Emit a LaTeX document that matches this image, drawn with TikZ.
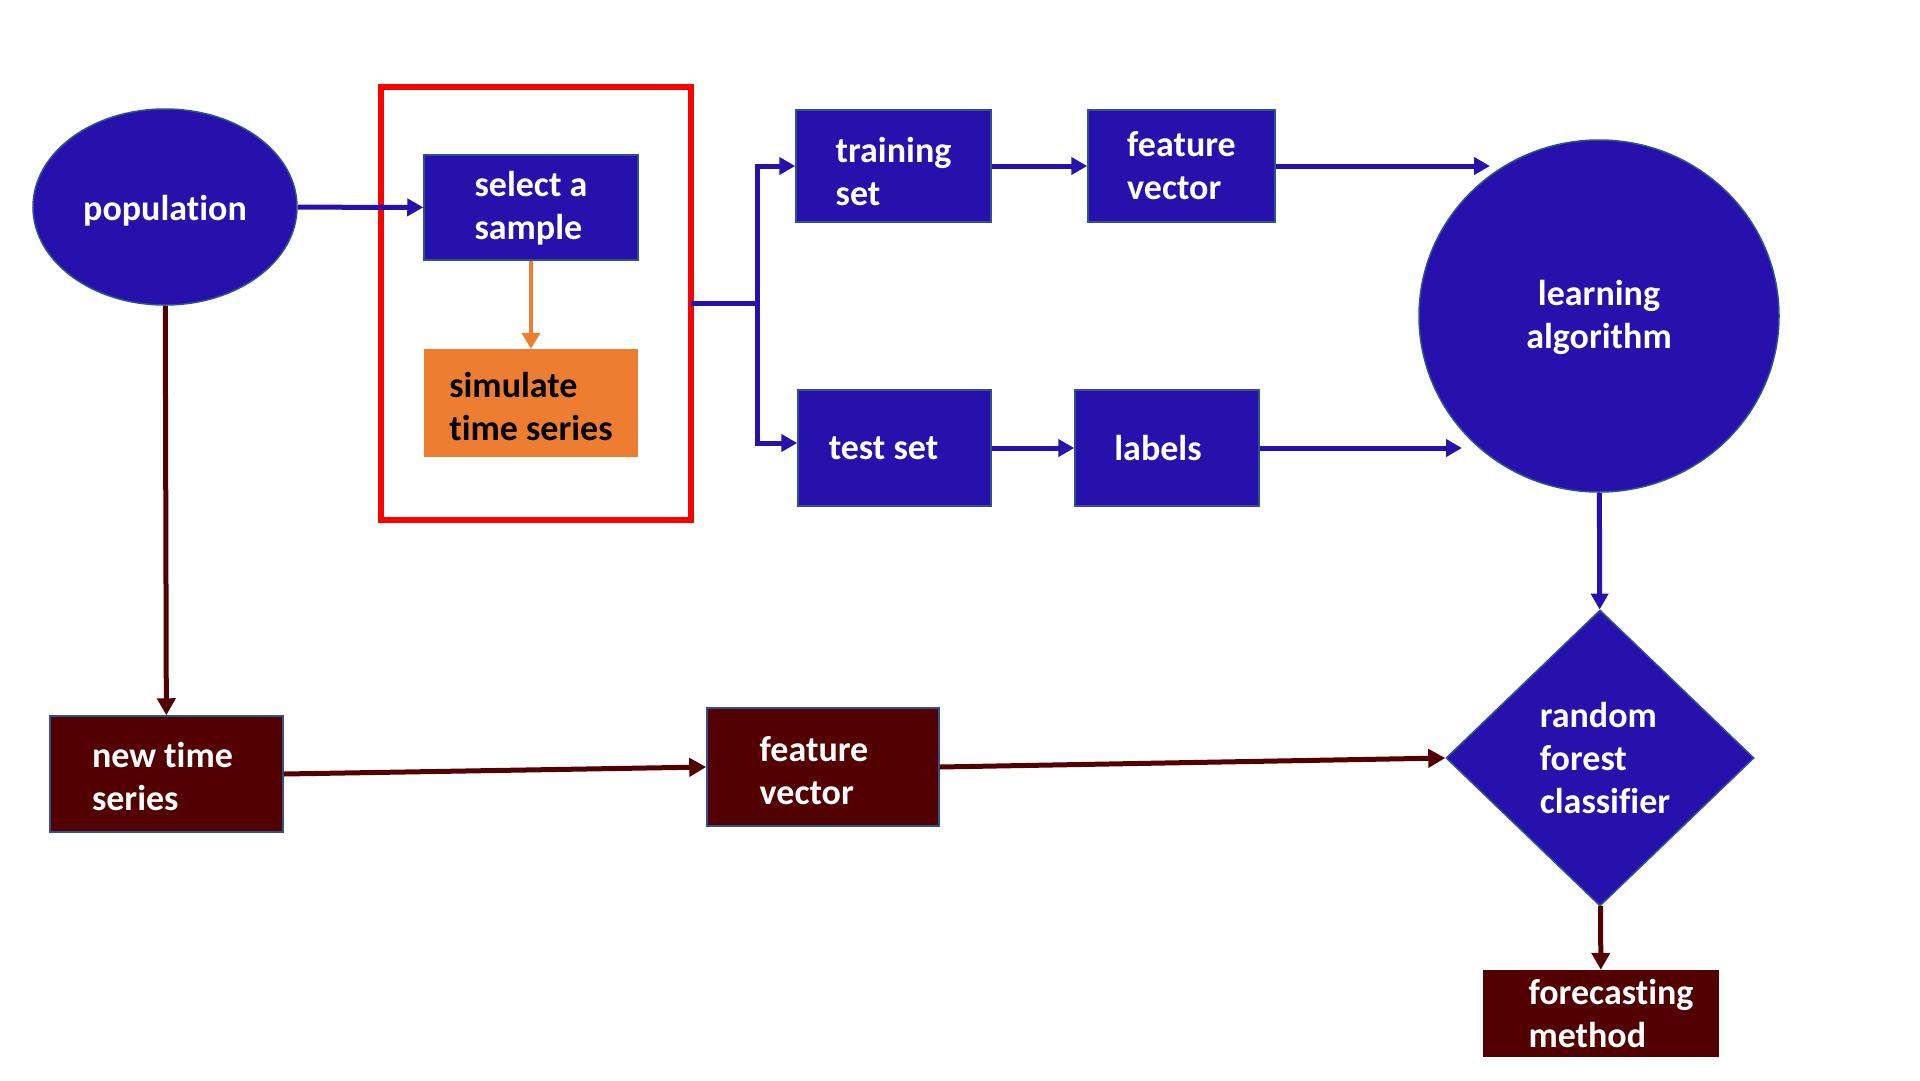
\documentclass[tikz,border=0pt]{standalone}
\usepackage{fontspec}
\setmainfont{Carlito}[Ligatures={NoCommon}]
\usetikzlibrary{arrows.meta,shapes.geometric}
\definecolor{nblue}{RGB}{38,17,173}
\definecolor{nbrown}{RGB}{82,0,0}
\definecolor{norange}{RGB}{237,125,49}
\definecolor{nedge}{RGB}{47,82,143}
\begin{document}
\begin{tikzpicture}[x=1pt,y=-1pt,
  txt/.style={font=\fontsize{36}{43}\selectfont\bfseries, text=white, align=left, inner sep=0pt},
  boxtext/.style n args={3}{label={[txt, xshift=#1, yshift=#2]center:{#3}}},
  darktext/.style n args={3}{label={[txt, text=black, xshift=#1, yshift=#2]center:{#3}}},
  bluebox/.style={rectangle, draw=nedge, line width=1.5pt, fill=nblue, inner sep=0pt},
  brownbox/.style={rectangle, draw=nedge, line width=1.5pt, fill=nbrown, inner sep=0pt},
  bluearrow/.style={draw=nblue, line width=5pt, -{Triangle[length=16pt,width=17pt]}},
  blueline/.style={draw=nblue, line width=5pt},
  brownarrow/.style={draw=nbrown, line width=5pt, -{Triangle[length=17pt,width=18pt]}},
  orangearrow/.style={draw=norange, line width=4pt, -{Triangle[length=16pt,width=18pt]}}
]
\useasboundingbox (0,0) rectangle (1920,1080);
\fill[white] (0,0) rectangle (1920,1080);

% nodes
\node[ellipse, draw=nedge, line width=1.5pt, fill=nblue, inner sep=0pt, minimum width=264pt, minimum height=196pt,
  boxtext={0pt}{-4pt}{population}] (pop) at (165,207) {};
\node[draw=red, line width=6pt, outer sep=0pt, minimum width=310pt, minimum height=433pt, inner sep=0pt] (grp) at (536,303.5) {};
\node[bluebox, minimum width=214pt, minimum height=105pt,
  boxtext={0pt}{-1pt}{select a\\sample}] (sel) at (531,207.5) {};
\node[rectangle, fill=norange, inner sep=0pt, minimum width=214pt, minimum height=108pt,
  darktext={0pt}{-3pt}{simulate\\time series}] (sim) at (531,403) {};
\node[bluebox, minimum width=195pt, minimum height=112pt,
  boxtext={0pt}{-5pt}{training\\set}] (train) at (893.5,166) {};
\node[bluebox, minimum width=187pt, minimum height=112pt,
  boxtext={0pt}{0pt}{feature\\vector}] (fva) at (1181.5,166) {};
\node[bluebox, minimum width=193pt, minimum height=116pt,
  boxtext={-11pt}{0pt}{test set}] (test) at (894.5,448) {};
\node[bluebox, minimum width=184pt, minimum height=116pt,
  boxtext={-9pt}{0pt}{labels}] (lab) at (1167,448) {};
\node[ellipse, draw=nedge, line width=1.5pt, fill=nblue, inner sep=0pt, minimum width=360pt, minimum height=352pt,
  label={[txt, align=center, yshift=-1pt]center:{learning\\algorithm}}] (la) at (1599,316) {};
\node[diamond, draw=nedge, line width=1.5pt, fill=nblue, inner sep=0pt, minimum width=308pt, minimum height=296pt,
  boxtext={5pt}{0pt}{random\\forest\\classifier}] (rf) at (1600,758) {};
\node[rectangle, fill=nbrown, inner sep=0pt, minimum width=236pt, minimum height=87pt,
  boxtext={10pt}{0pt}{forecasting\\method}] (fc) at (1601,1013.5) {};
\node[brownbox, minimum width=233pt, minimum height=116pt,
  boxtext={-4pt}{-2pt}{new time\\series}] (nts) at (166.5,774) {};
\node[brownbox, minimum width=232pt, minimum height=118pt,
  boxtext={-9pt}{-4pt}{feature\\vector}] (fvb) at (823,767) {};

\coordinate (lain1) at (1490,166);
\coordinate (lain2) at (1462,448);

% connectors
\draw[bluearrow] (pop) -- (sel);
\draw[orangearrow] (sel) -- (sim);
\draw[blueline] (grp.east) -- ++(66,0) coordinate (jn);
\draw[bluearrow] (jn) |- (train.west);
\draw[bluearrow] (jn) |- ([yshift=5pt]test.west);
\draw[bluearrow] (train) -- (fva);
\draw[bluearrow] (test) -- (lab);
\draw[bluearrow] (fva.east) -- (lain1);
\draw[bluearrow] (lab.east) -- (lain2);
\draw[bluearrow] (la) -- (rf);
\draw[brownarrow] (rf) -- (fc);
\draw[brownarrow] (pop) -- (nts);
\draw[brownarrow] (nts.east) -- (fvb.west);
\draw[brownarrow] (fvb.east) -- (rf.west);
\end{tikzpicture}
\end{document}
